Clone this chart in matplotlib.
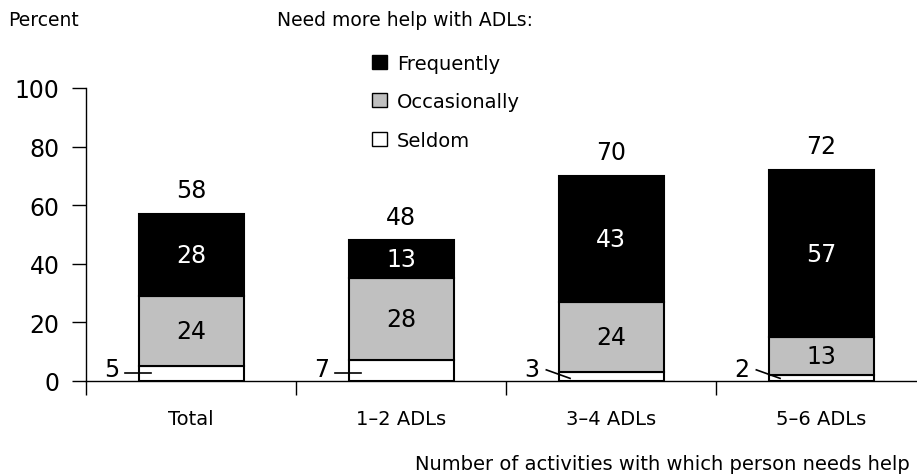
import matplotlib
matplotlib.use("Agg")
import matplotlib.pyplot as plt
from matplotlib.patches import Patch

categories = ["Total", "1\u20132 ADLs", "3\u20134 ADLs", "5\u20136 ADLs"]
seldom = [5, 7, 3, 2]
occasionally = [24, 28, 24, 13]
frequently = [28, 13, 43, 57]
totals = [58, 48, 70, 72]

plt.rcParams["font.family"] = ["DejaVu Sans"]

fig = plt.figure(figsize=(9.17, 4.77), dpi=100)
ax = fig.add_axes([86 / 917, 1 - 382 / 477, 1 - 86 / 917, 293 / 477])

x = list(range(len(categories)))
width = 0.5
edge = dict(edgecolor="black", linewidth=1.5)

ax.bar(x, seldom, width, color="white", **edge)
ax.bar(x, occasionally, width, bottom=seldom, color="#c0c0c0", **edge)
base2 = [s + o for s, o in zip(seldom, occasionally)]
ax.bar(x, frequently, width, bottom=base2, color="black", **edge)

num_size = 17
for i in x:
    # values inside segments
    ax.text(i, seldom[i] + occasionally[i] / 2, str(occasionally[i]),
            ha="center", va="center", fontsize=num_size, color="black")
    ax.text(i, base2[i] + frequently[i] / 2, str(frequently[i]),
            ha="center", va="center", fontsize=num_size, color="white")
    # totals above
    ax.annotate(str(totals[i]), (i, base2[i] + frequently[i]),
                xytext=(0, 17), textcoords="offset points",
                ha="center", va="center", fontsize=num_size)

# small seldom values sit left of the bar with a leader line
for i in x:
    left = i - width / 2
    if seldom[i] >= 5:
        ax.plot([left - 0.062, left + 0.058], [2.7, 2.7],
                color="black", lw=1.2, clip_on=False)
    else:
        ax.plot([left - 0.058, left + 0.055], [3.8, 0.9],
                color="black", lw=1.2, clip_on=False)
    ax.text(left - 0.09, 4.0, str(seldom[i]),
            ha="right", va="center", fontsize=num_size)

ax.set_xlim(-0.5, 3.457)
ax.set_ylim(0, 100)
ax.set_yticks([0, 20, 40, 60, 80, 100])
ax.set_xticks([-0.5, 0.5, 1.5, 2.5])
ax.set_xticklabels([])
ax.tick_params(axis="y", direction="out", length=10, width=1,
               labelsize=num_size, pad=9)
ax.tick_params(axis="x", direction="out", length=10, width=1)
ax.spines["top"].set_visible(False)
ax.spines["right"].set_visible(False)
ax.spines["left"].set_linewidth(1)
ax.spines["bottom"].set_linewidth(1)

for i, c in enumerate(categories):
    ax.text(i, -12.8, c, ha="center", va="center", fontsize=14)

fig.text(910 / 917, 1 - 465 / 477, "Number of activities with which person needs help",
         ha="right", va="center", fontsize=14)
fig.text(8 / 917, 1 - 21 / 477, "Percent", ha="left", va="center", fontsize=13.5)
fig.text(277 / 917, 1 - 21 / 477, "Need more help with ADLs:", ha="left",
         va="center", fontsize=13.5)

handles = [Patch(facecolor="black", edgecolor="black"),
           Patch(facecolor="#c0c0c0", edgecolor="black"),
           Patch(facecolor="white", edgecolor="black")]
fig.legend(handles, ["Frequently", "Occasionally", "Seldom"],
           loc="upper left", bbox_to_anchor=(364 / 917, 1 - 47 / 477),
           frameon=False, fontsize=14, handlelength=0.78, handleheight=0.72,
           handletextpad=0.5, labelspacing=1.0, borderaxespad=0)

fig.savefig("out.png", dpi=100)
